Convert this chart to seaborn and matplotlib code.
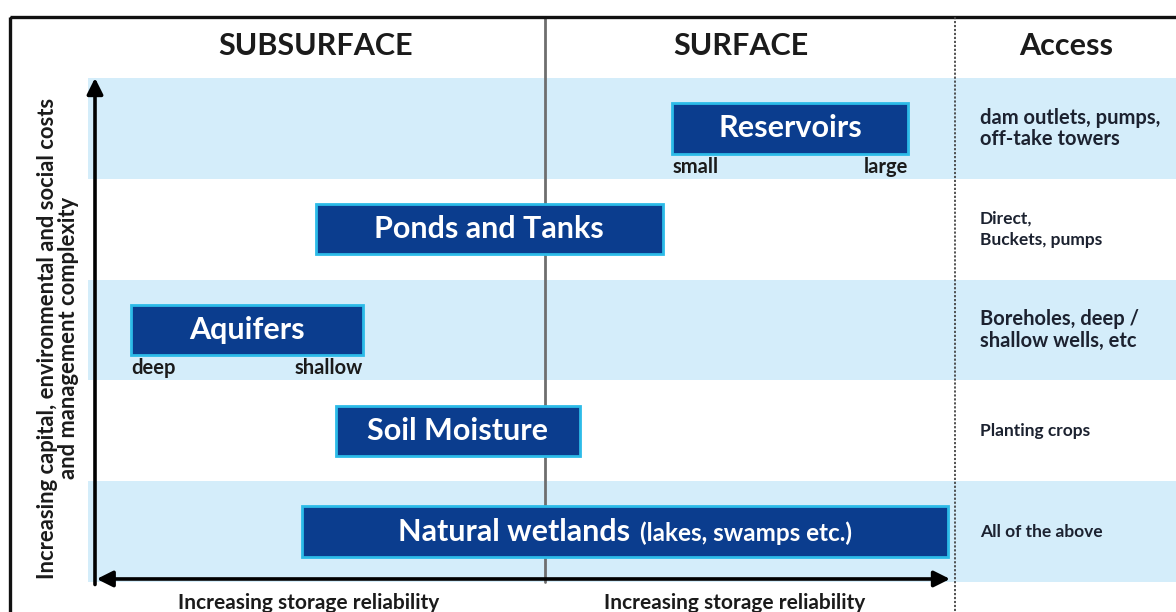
import numpy as np
import pandas as pd
import matplotlib
matplotlib.use("Agg")
import matplotlib.pyplot as plt
import seaborn as sns
from matplotlib.offsetbox import TextArea, HPacker, AnnotationBbox
from matplotlib.patches import Rectangle

# ---------------- data ----------------
sources = ["Reservoirs", "Ponds and Tanks", "Aquifers", "Soil Moisture", "Natural wetlands"]
source_notes = ["", "", "", "", "(lakes, swamps etc.)"]
reliability_start = [67.5, 25.8, 4.2, 28.2, 24.2]
reliability_end = [95.1, 66.4, 31.3, 56.7, 99.8]
range_low = ["small", "", "deep", "", ""]
range_high = ["large", "", "shallow", "", ""]
access = ["dam outlets, pumps,\noff-take towers",
          "Direct,\nBuckets, pumps",
          "Boreholes, deep /\nshallow wells, etc",
          "Planting crops",
          "All of the above"]
zones = ["SUBSURFACE", "SURFACE"]
surface_boundary = 52.6
access_title = "Access"
x_label = "Increasing storage reliability"
y_label = "Increasing capital, environmental and social costs\nand management complexity"

# ---------------- style ----------------
sns.set_theme(style="white")
plt.rcParams["font.family"] = ["Lato", "DejaVu Sans"]

NAVY = "#0b3d8e"
EDGE = "#2cbbe8"
BAND = "#d4edfa"
GREY = "#6e6e6e"
INK = "#1b1b1b"
access_sizes = [14.5, 12.5, 14.5, 12.5, 12.5]
access_spacing = [1.1, 1.4, 1.1, 1.1, 1.1]

W, H = 1176, 612
fig = plt.figure(figsize=(W / 100, H / 100), dpi=100)
fig.patch.set_facecolor("white")

# main chart axes: x = storage reliability (0-100), y = source category
L, R, T, B = 95, 950, 78, 582
ax = fig.add_axes([L / W, (H - B) / H, (R - L) / W, (B - T) / H], zorder=2)
ax.patch.set_alpha(0)

df = pd.DataFrame({
    "source": sources,
    "span": np.subtract(reliability_end, reliability_start),
    "start": reliability_start,
})

# alternating bands across chart and access column
xmin_band = (88 - L) / (R - L)
xmax_band = (W + 5 - L) / (R - L)
for i in range(len(sources)):
    if i % 2 == 0:
        ax.axhspan(i - 0.5, i + 0.5, xmin=xmin_band, xmax=xmax_band,
                   color=BAND, lw=0, zorder=0, clip_on=False)

# surface / subsurface divider
top_frac = (B - 17) / (B - T)
ax.axvline(surface_boundary, ymin=0, ymax=top_frac, color=GREY, lw=2,
           zorder=1, clip_on=False)

sns.barplot(data=df, y="source", x="span", left=df["start"].to_numpy(),
            order=sources, orient="y", width=0.5, color=NAVY, saturation=1,
            edgecolor=EDGE, linewidth=2, errorbar=None, ax=ax, zorder=3)

ax.set_xlim(0, 100)
ax.set_ylim(len(sources) - 0.5, -0.5)
ax.axis("off")

# bar labels
for i, (name, note, s, e) in enumerate(zip(sources, source_notes, reliability_start, reliability_end)):
    mid = (s + e) / 2
    if note:
        box = HPacker(children=[
            TextArea(name, textprops=dict(color="white", fontsize=22, fontweight="bold")),
            TextArea(note, textprops=dict(color="white", fontsize=17.5, fontweight="bold")),
        ], align="baseline", pad=0, sep=7)
        ab = AnnotationBbox(box, (mid, i), xycoords="data", frameon=False,
                            box_alignment=(0.5, 0.5), zorder=5)
        ax.add_artist(ab)
    else:
        ax.text(mid, i, name, ha="center", va="center", color="white",
                fontsize=22, fontweight="bold", zorder=5)
    if range_low[i]:
        ax.text(s, i + 0.38, range_low[i], ha="left", va="center", color=INK,
                fontsize=14.5, fontweight="bold", zorder=5)
    if range_high[i]:
        ax.text(e, i + 0.38, range_high[i], ha="right", va="center", color=INK,
                fontsize=14.5, fontweight="bold", zorder=5)

# axis arrows
ax.annotate("", xy=(0, 1.0), xytext=(0, -0.005), xycoords="axes fraction",
            arrowprops=dict(arrowstyle="-|>", lw=2.6, color="black",
                            mutation_scale=24, shrinkA=0, shrinkB=0),
            annotation_clip=False, zorder=6)
ax.annotate("", xy=(1.0, 0.006), xytext=(0.002, 0.006), xycoords="axes fraction",
            arrowprops=dict(arrowstyle="<|-|>", lw=2.6, color="black",
                            mutation_scale=24, shrinkA=0, shrinkB=0),
            annotation_clip=False, zorder=6)

# overlay (pixel layout) for frame, headers and access column
ov = fig.add_axes([0, 0, 1, 1], zorder=3)
ov.set_xlim(0, W)
ov.set_ylim(H, 0)
ov.axis("off")
ov.patch.set_alpha(0)

ov.add_patch(Rectangle((10, 17), W + 20, H + 20, fill=False, lw=2.4,
                       edgecolor="#111111", clip_on=False))
ov.plot([955, 955], [17, H], color="#444444", lw=1.3, ls=(0, (1.2, 1.0)))

ov.text(316, 46, zones[0], ha="center", va="center", fontsize=22,
        fontweight="bold", color=INK)
ov.text(741, 46, zones[1], ha="center", va="center", fontsize=22,
        fontweight="bold", color=INK)
ov.text(1066, 46, access_title, ha="center", va="center", fontsize=22,
        fontweight="bold", color=INK)

band_px = (B - T) / len(sources)
for i, txt in enumerate(access):
    yc = T + band_px * (i + 0.5)
    ov.text(980, yc, txt, ha="left", va="center", fontsize=access_sizes[i],
            fontweight="bold", color="#1c2230", linespacing=access_spacing[i])

ov.text(58, 338, y_label, rotation=90, ha="center", va="center",
        fontsize=15.8, fontweight="bold", color=INK, linespacing=1.0,
        multialignment="center")
ov.text(309, 603, x_label, ha="center", va="center", fontsize=15,
        fontweight="bold", color=INK)
ov.text(735, 603, x_label, ha="center", va="center", fontsize=15,
        fontweight="bold", color=INK)

fig.savefig("out.png", dpi=100)
